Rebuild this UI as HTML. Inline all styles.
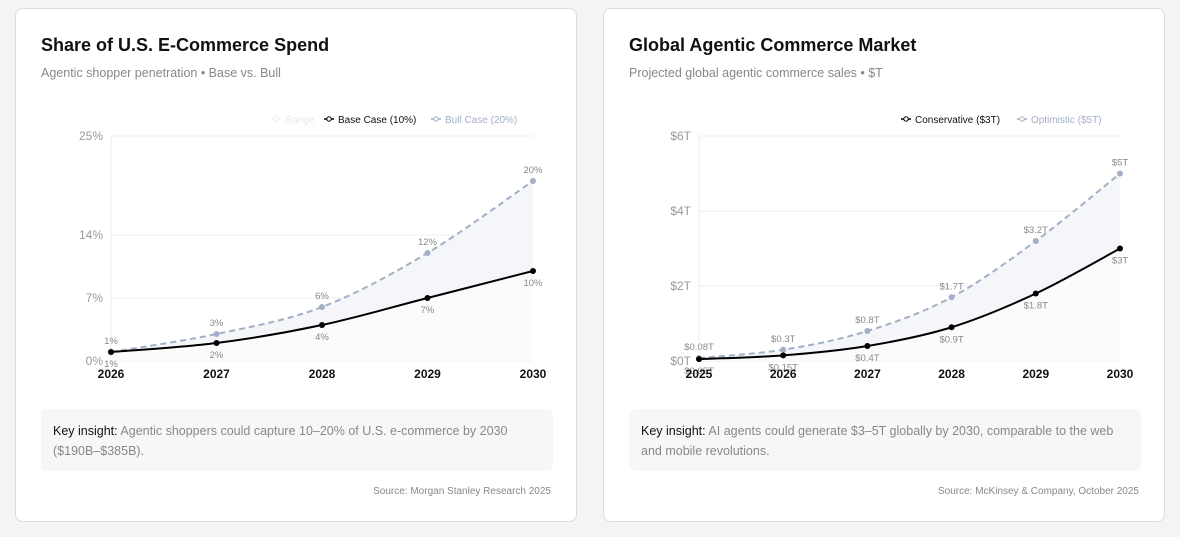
<!DOCTYPE html>
<html><head><meta charset="utf-8"><style>
body{margin:0;width:1180px;height:537px;background:#f4f4f4;font-family:"Liberation Sans",sans-serif;position:relative;overflow:hidden}
.card{position:absolute;top:8px;width:562px;height:514px;background:#fff;border:1px solid #dcdcdc;border-radius:8px;box-sizing:border-box}
.t{position:absolute;left:25px;top:26px;font-size:18px;font-weight:bold;color:#111}
.s{position:absolute;left:25px;top:57px;font-size:12.5px;color:#888}
.ins{position:absolute;left:25px;top:400px;width:512px;height:62px;background:#f7f7f7;border-radius:6px;box-sizing:border-box;padding:12px 12px;font-size:12.5px;line-height:20px;color:#888}
.ins b{color:#111;font-weight:normal}
.src{position:absolute;right:25px;top:477px;font-size:10px;color:#888}
svg{position:absolute;left:0;top:0}
</style></head><body>
<div class="card" style="left:15px">
<div class="t">Share of U.S. E-Commerce Spend</div>
<div class="s">Agentic shopper penetration • Base vs. Bull</div>
<svg id="c1" width="560" height="400"></svg>
<div class="ins"><b>Key insight:</b> Agentic shoppers could capture 10–20% of U.S. e-commerce by 2030 ($190B–$385B).</div>
<div class="src">Source: Morgan Stanley Research 2025</div>
</div>
<div class="card" style="left:603px">
<div class="t">Global Agentic Commerce Market</div>
<div class="s">Projected global agentic commerce sales • $T</div>
<svg id="c2" width="560" height="400"></svg>
<div class="ins"><b>Key insight:</b> AI agents could generate $3–5T globally by 2030, comparable to the web and mobile revolutions.</div>
<div class="src">Source: McKinsey &amp; Company, October 2025</div>
</div>
<script>
const years1=["2026","2027","2028","2029","2030"];
const base1=[1,2,4,7,10];
const bull1=[1,3,6,12,20];
const ticks1=[0,7,14,25];
const years2=["2025","2026","2027","2028","2029","2030"];
const cons2=[0.05,0.15,0.4,0.9,1.8,3];
const opt2=[0.08,0.3,0.8,1.7,3.2,5];
const consLbl2=["$0.05T","$0.15T","$0.4T","$0.9T","$1.8T","$3T"];
const optLbl2=["$0.08T","$0.3T","$0.8T","$1.7T","$3.2T","$5T"];
const ticks2=[0,2,4,6];
const NS="http://www.w3.org/2000/svg";
function mk(p,tag,a,txt){const e=document.createElementNS(NS,tag);for(const k in a)e.setAttribute(k,a[k]);if(txt!==undefined)e.textContent=txt;p.appendChild(e);return e;}
function path(pts){let d="M"+pts[0][0]+","+pts[0][1];for(let i=0;i<pts.length-1;i++){const p0=pts[i-1]||pts[i],p1=pts[i],p2=pts[i+1],p3=pts[i+2]||p2;const c1=[p1[0]+(p2[0]-p0[0])/6,p1[1]+(p2[1]-p0[1])/6],c2=[p2[0]-(p3[0]-p1[0])/6,p2[1]-(p3[1]-p1[1])/6];d+=" C"+c1+" "+c2+" "+p2;}return d;}
function draw(id,cats,lo,hi,ticks,ymax,x0,x1,tickFmt,loLbl,hiLbl,legend){
 const svg=document.getElementById(id);const y0=352,yT=127;
 const X=i=>x0+(x1-x0)*i/(cats.length-1);const Y=v=>y0-(y0-yT)*v/ymax;
 ticks.forEach(t=>{const l=mk(svg,"line",{x1:x0,x2:x1,y1:Y(t),y2:Y(t),stroke:"#ececec"});
 
 const tx=mk(svg,"text",{x:x0-8,y:Y(t)+4,"text-anchor":"end","font-size":12,fill:"#999"},tickFmt(t));
 });
 mk(svg,"line",{x1:x0,x2:x0,y1:yT,y2:y0,stroke:"#ececec"});
 const pl=lo.map((v,i)=>[X(i),Y(v)]),ph=hi.map((v,i)=>[X(i),Y(v)]);
 const ph2=ph.slice().reverse();
 const area=mk(svg,"path",{d:path(pl)+" L"+ph2[0]+path(ph2).slice(path(ph2).indexOf("C")-1)+"Z",fill:"#f5f6f9"});
 
 const under=mk(svg,"path",{d:path(pl)+" L"+X(cats.length-1)+","+y0+" L"+x0+","+y0+"Z",fill:"#fbfbfc"});
 
 const hl=mk(svg,"path",{d:path(ph),fill:"none",stroke:"#a3afc6","stroke-width":2,"stroke-dasharray":"6,4"});
 
 const ll=mk(svg,"path",{d:path(pl),fill:"none",stroke:"#000","stroke-width":2});
 
 hi.forEach((v,i)=>{const c=mk(svg,"circle",{cx:X(i),cy:Y(v),r:3,fill:"#a3afc6"});
  const t=mk(svg,"text",{x:X(i),y:Y(v)-8,"text-anchor":"middle","font-size":9.5,fill:"#888"},hiLbl[i]);});
 lo.forEach((v,i)=>{const c=mk(svg,"circle",{cx:X(i),cy:Y(v),r:3,fill:"#000"});
  const t=mk(svg,"text",{x:X(i),y:Y(v)+15,"text-anchor":"middle","font-size":9.5,fill:"#888"},loLbl[i]);});
 cats.forEach((c,i)=>{const t=mk(svg,"text",{x:X(i),y:369,"text-anchor":"middle","font-size":12,fill:"#111","font-weight":"bold"},c);});
 legend.forEach(L=>{const g=mk(svg,"g",{});
  mk(g,"line",{x1:L[0],x2:L[0]+10,y1:110,y2:110,stroke:L[2],"stroke-width":1.5});mk(g,"circle",{cx:L[0]+5,cy:110,r:2.2,fill:"#fff",stroke:L[2]});
  mk(g,"text",{x:L[0]+14,y:114,"font-size":10,fill:L[3]},L[1]);});
}
draw("c1",years1,base1,bull1,ticks1,25,95,517,t=>t+"%",base1.map(v=>v+"%"),bull1.map(v=>v+"%"),
 [[255,"Range","#eef0f4","#e6e8ee"],[308,"Base Case (10%)","#000","#111"],[415,"Bull Case (20%)","#a3afc6","#a3afc6"]]);
draw("c2",years2,cons2,opt2,ticks2,6,95,516,t=>"$"+t+"T",consLbl2,optLbl2,
 [[297,"Conservative ($3T)","#000","#111"],[413,"Optimistic ($5T)","#a3afc6","#a3afc6"]]);
</script>
</body></html>
